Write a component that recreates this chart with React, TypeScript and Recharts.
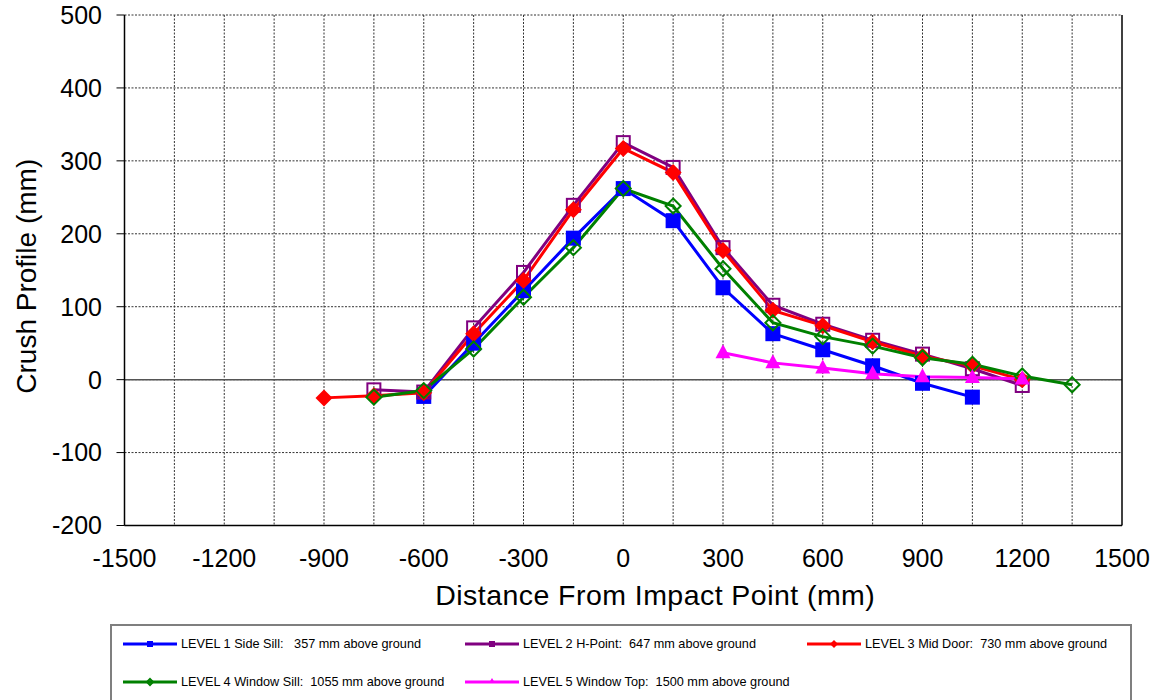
import React from 'react';
import { LineChart, Line, XAxis, YAxis, CartesianGrid, ReferenceLine, Legend, Label } from 'recharts';

const FONT = '"Liberation Sans", Arial, sans-serif';

const xTicks = [-1500, -1200, -900, -600, -300, 0, 300, 600, 900, 1200, 1500];
const yTicks = [-200, -100, 0, 100, 200, 300, 400, 500];
const gridX = [-1350, -1200, -1050, -900, -750, -600, -450, -300, -150, 0, 150, 300, 450, 600, 750, 900, 1050, 1200, 1350];

const level1X = [-600, -450, -300, -150, 0, 150, 300, 450, 600, 750, 900, 1050];
const level1Y = [-23, 50, 122, 194, 262, 218, 126, 63, 41, 19, -5, -24];

const level2X = [-750, -600, -450, -300, -150, 0, 150, 300, 450, 600, 750, 900, 1050, 1200];
const level2Y = [-14, -17, 71, 147, 239, 325, 291, 181, 102, 76, 54, 35, 15, -8];

const level3X = [-900, -750, -600, -450, -300, -150, 0, 150, 300, 450, 600, 750, 900, 1050, 1200];
const level3Y = [-25, -22, -18, 63, 136, 233, 317, 284, 177, 95, 74, 52, 32, 19, 0];

const level4X = [-750, -600, -450, -300, -150, 0, 150, 300, 450, 600, 750, 900, 1050, 1200, 1350];
const level4Y = [-24, -15, 42, 113, 181, 262, 238, 152, 78, 59, 46, 30, 21, 5, -7];

const level5X = [300, 450, 600, 750, 900, 1050, 1200];
const level5Y = [37, 23, 16, 8, 4, 3, 1];

const seriesNames = [
  'LEVEL 1 Side Sill:   357 mm above ground',
  'LEVEL 2 H-Point:  647 mm above ground',
  'LEVEL 3 Mid Door:  730 mm above ground',
  'LEVEL 4 Window Sill:  1055 mm above ground',
  'LEVEL 5 Window Top:  1500 mm above ground',
];

const zip = (xs: number[], ys: number[]) => xs.map((x, i) => ({ x, y: ys[i] }));

type Shape = 'square' | 'hsquare' | 'diamond' | 'hdiamond' | 'triangle';

const series: { name: string; color: string; shape: Shape; data: { x: number; y: number }[] }[] = [
  { name: seriesNames[0], color: '#0000FF', shape: 'square', data: zip(level1X, level1Y) },
  { name: seriesNames[1], color: '#800080', shape: 'hsquare', data: zip(level2X, level2Y) },
  { name: seriesNames[2], color: '#FF0000', shape: 'diamond', data: zip(level3X, level3Y) },
  { name: seriesNames[3], color: '#008000', shape: 'hdiamond', data: zip(level4X, level4Y) },
  { name: seriesNames[4], color: '#FF00FF', shape: 'triangle', data: zip(level5X, level5Y) },
];

function marker(shape: Shape, color: string, cx: number, cy: number, s: number, key?: any) {
  switch (shape) {
    case 'square':
      return <rect key={key} x={cx - s} y={cy - s} width={2 * s} height={2 * s} fill={color} />;
    case 'hsquare':
      return <rect key={key} x={cx - s + 1} y={cy - s + 1} width={2 * s - 2} height={2 * s - 2} fill="none" stroke={color} strokeWidth={2} />;
    case 'diamond':
      return <polygon key={key} points={`${cx},${cy - s - 1} ${cx + s + 1},${cy} ${cx},${cy + s + 1} ${cx - s - 1},${cy}`} fill={color} />;
    case 'hdiamond':
      return <polygon key={key} points={`${cx},${cy - s} ${cx + s},${cy} ${cx},${cy + s} ${cx - s},${cy}`} fill="none" stroke={color} strokeWidth={2} />;
    case 'triangle':
      return <polygon key={key} points={`${cx},${cy - s - 1} ${cx + s},${cy + s - 2} ${cx - s},${cy + s - 2}`} fill={color} />;
  }
  return null;
}

const YLabel = (props: any) => {
  const vb = props.viewBox;
  const cx = vb.x + 36;
  const cy = vb.y + vb.height / 2 + 6;
  return (
    <text x={cx} y={cy} transform={`rotate(-90, ${cx}, ${cy})`} textAnchor="middle" fontSize={28} fontFamily={FONT} fill="#000">
      Crush Profile (mm)
    </text>
  );
};

const XLabel = (props: any) => {
  const vb = props.viewBox;
  const cx = vb.x + vb.width / 2 + 32;
  const cy = vb.y + 79.5;
  return (
    <text x={cx} y={cy} textAnchor="middle" fontSize={28.5} letterSpacing={0.45} fontFamily={FONT} fill="#000">
      Distance From Impact Point (mm)
    </text>
  );
};

const legendPos = [
  { left: 11, top: 18 },
  { left: 353, top: 18 },
  { left: 695, top: 18 },
  { left: 11, top: 56 },
  { left: 353, top: 56 },
];

const LegendBox = () => (
  <div
    style={{
      position: 'relative',
      width: 1022,
      height: 90,
      boxSizing: 'border-box',
      border: '2px solid #7f7f7f',
      background: '#fff',
      fontFamily: FONT,
    }}
  >
    {series.map((s, i) => (
      <div
        key={s.name}
        style={{
          position: 'absolute',
          left: legendPos[i].left,
          top: legendPos[i].top - 7,
          height: 14,
          display: 'flex',
          alignItems: 'center',
          whiteSpace: 'pre',
        }}
      >
        <svg width={54} height={14} style={{ marginRight: 4 }}>
          <line x1={0} y1={7} x2={54} y2={7} stroke={s.color} strokeWidth={3} />
          {marker(s.shape, s.color, 27, 7, 3)}
        </svg>
        <span style={{ fontSize: 12.7, color: '#000', lineHeight: '14px' }}>{s.name}</span>
      </div>
    ))}
  </div>
);

export default function App() {
  return (
    <div style={{ position: 'absolute', left: 0, top: 0, width: 1157, height: 700, background: '#fff', overflow: 'hidden' }}>
      <LineChart width={1157} height={700} margin={{ top: 15, right: 35, bottom: 0, left: 0 }}>
        <CartesianGrid
          stroke="#333"
          strokeDasharray="2 1.5"
          strokeWidth={1}
          horizontal={true}
          vertical={true}
          verticalValues={gridX}
        />
        <XAxis
          type="number"
          dataKey="x"
          domain={[-1500, 1500]}
          ticks={xTicks}
          allowDataOverflow
          height={174.5}
          axisLine={{ stroke: '#000', strokeWidth: 1.5 }}
          tickLine={false}
          tickSize={0}
          tickMargin={23.5}
          tick={{ fontSize: 25, fill: '#000', fontFamily: FONT }}
        >
          <Label content={XLabel} />
        </XAxis>
        <YAxis
          type="number"
          dataKey="y"
          domain={[-200, 500]}
          ticks={yTicks}
          allowDataOverflow
          width={124.5}
          axisLine={{ stroke: '#000', strokeWidth: 1.5 }}
          tickLine={{ stroke: '#000', strokeWidth: 1 }}
          tickSize={8}
          tickMargin={14.5}
          tick={{ fontSize: 25, fill: '#000', fontFamily: FONT }}
        >
          <Label content={YLabel} />
        </YAxis>
        <ReferenceLine y={0} stroke="#555" strokeWidth={1.5} />
        <ReferenceLine x={1500} stroke="#000" strokeWidth={1.5} />
        {series.map((s) => (
          <Line
            key={s.name}
            data={s.data}
            dataKey="y"
            name={s.name}
            type="linear"
            stroke={s.color}
            strokeWidth={3}
            isAnimationActive={false}
            activeDot={false}
            dot={(p: any) => marker(s.shape, s.color, p.cx, p.cy, 7.5, `${s.name}-${p.index}`)}
          />
        ))}
        <Legend
          layout="horizontal"
          verticalAlign="middle"
          align="center"
          wrapperStyle={{ left: 110, top: 624, width: 1022, height: 90 }}
          content={() => <LegendBox />}
        />
      </LineChart>
    </div>
  );
}
